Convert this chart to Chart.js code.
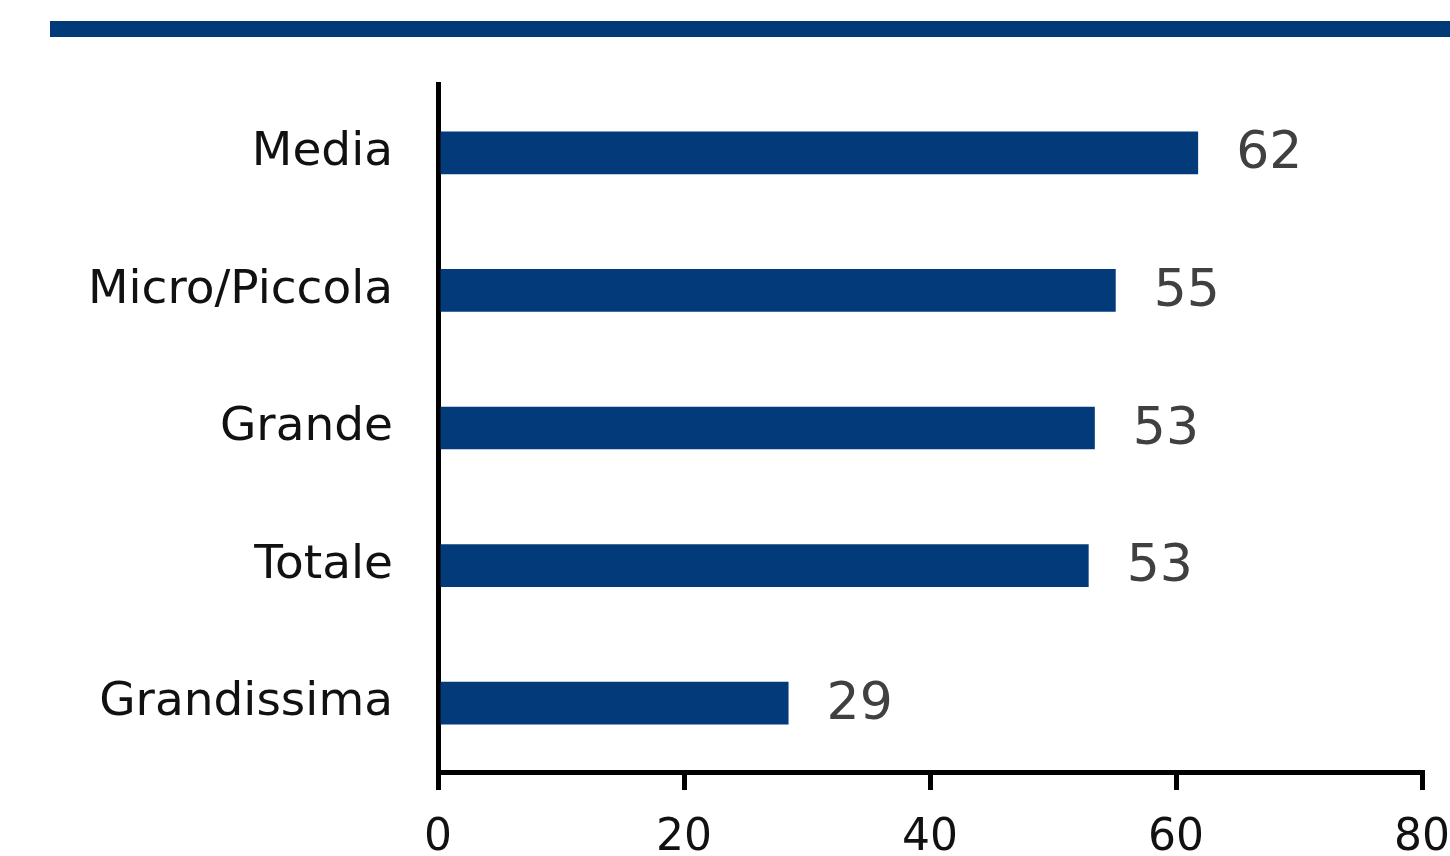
<!DOCTYPE html>
<html>
<head>
<meta charset="utf-8">
<script src="https://cdn.jsdelivr.net/npm/chart.js@4/dist/chart.umd.min.js"></script>
<style>
  html, body { margin: 0; padding: 0; background: #fff; }
  #wrap { position: relative; width: 1450px; height: 856px; overflow: hidden; }
  #rule { position: absolute; left: 50px; top: 21px; width: 1400px; height: 16px; background: #003a78; }
  canvas { position: absolute; left: 0; top: 0; }
</style>
</head>
<body>
<div id="wrap">
  <div id="rule"></div>
  <canvas id="barChart" width="1450" height="856"></canvas>
</div>
<script>
const categories = ['Media', 'Micro/Piccola', 'Grande', 'Totale', 'Grandissima'];
const values = [62, 55, 53, 53, 29];
const barLengths = [61.8, 55.1, 53.4, 52.9, 28.5]; // bar ends
const xTicks = [0, 20, 40, 60, 80];

const BLUE = '#023a7a';
const FONT = "'DejaVu Sans', sans-serif";

// draws the rounded value next to each bar
const valueLabels = {
    id: 'valueLabels',
    afterDatasetsDraw(chart) {
        const ctx = chart.ctx;
        const meta = chart.getDatasetMeta(0);
        ctx.save();
        ctx.font = '52px ' + FONT;
        ctx.fillStyle = '#404040';
        ctx.textAlign = 'left';
        ctx.textBaseline = 'middle';
        meta.data.forEach((bar, i) => {
            ctx.fillText(String(values[i]), bar.x + 38, bar.y + 2);
        });
        ctx.restore();
    }
};

const ctx = document.getElementById('barChart').getContext('2d');
const myChart = new Chart(ctx, {
    type: 'bar',
    data: {
        labels: categories,
        datasets: [{
            data: barLengths,
            backgroundColor: BLUE,
            borderWidth: 0,
            categoryPercentage: 1,
            barPercentage: 0.31
        }]
    },
    options: {
        indexAxis: 'y',
        responsive: false,
        animation: false,
        layout: { padding: { top: 84, right: 28, left: 0, bottom: 0 } },
        plugins: { legend: { display: false }, tooltip: { enabled: false } },
        scales: {
            x: {
                min: 0,
                max: 80,
                afterBuildTicks: (axis) => { axis.ticks = xTicks.map(v => ({ value: v })); },
                afterFit: (axis) => {
                    axis.height = 84;
                    axis.paddingLeft = 0;
                    axis.paddingRight = 0; // let the "80" label run to the page edge
                },
                border: { display: true, color: '#000', width: 5 },
                grid: {
                    drawOnChartArea: false,
                    drawTicks: true,
                    tickLength: 18,
                    color: '#000',
                    lineWidth: 5
                },
                ticks: {
                    color: '#111',
                    padding: 22,
                    font: { family: FONT, size: 44 },
                    maxRotation: 0
                }
            },
            y: {
                afterFit: (axis) => { axis.width = 438; },
                border: { display: true, color: '#000', width: 5 },
                grid: { display: false, drawTicks: false },
                ticks: {
                    color: '#111',
                    padding: 45,
                    font: { family: FONT, size: 47 }
                }
            }
        }
    },
    plugins: [valueLabels]
});
</script>
</body>
</html>
